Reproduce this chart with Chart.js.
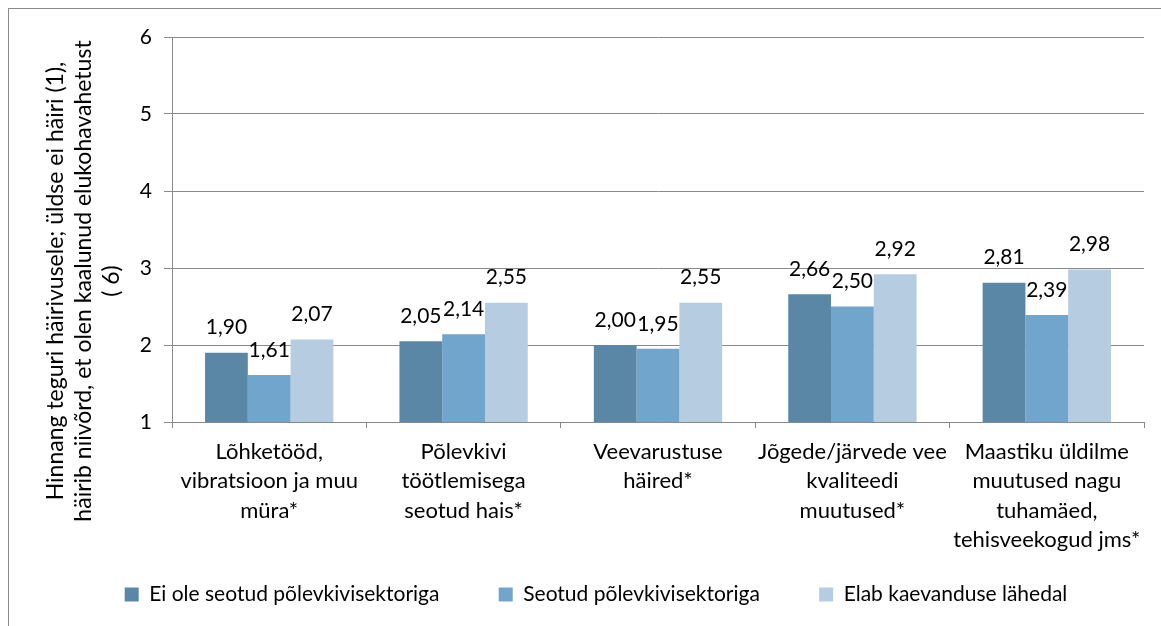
<!DOCTYPE html>
<html>
<head>
<meta charset="utf-8">
<script src="https://cdn.jsdelivr.net/npm/chart.js@4.4.0/dist/chart.umd.min.js"></script>
<style>
  body { margin: 0; background: #fff; overflow: hidden; }
  #frame { position: absolute; left: 8px; top: 8px; width: 1200px; height: 700px; border: 1px solid #8a8a8a; }
  #myChart { position: absolute; left: 0; top: 0; }
</style>
</head>
<body>
<div id="frame"></div>
<canvas id="myChart" width="1161" height="626"></canvas>
<script>
// andmed
const kategooriad = [
    ['Lõhketööd,', 'vibratsioon ja muu', 'müra*'],
    ['Põlevkivi', 'töötlemisega', 'seotud hais*'],
    ['Veevarustuse', 'häired*'],
    ['Jõgede/järvede vee', 'kvaliteedi', 'muutused*'],
    ['Maastiku üldilme', 'muutused nagu', 'tuhamäed,', 'tehisveekogud jms*']
];
const eiOleSeotud = [1.90, 2.05, 2.00, 2.66, 2.81];
const seotud = [1.61, 2.14, 1.95, 2.50, 2.39];
const kaevanduseLahedal = [2.07, 2.55, 2.55, 2.92, 2.98];
const yTicks = [1, 2, 3, 4, 5, 6];
const yPealkiri = [
    'Hinnang teguri häirivusele; üldse ei häiri (1),',
    'häirib niivõrd, et olen kaalunud elukohavahetust',
    '( 6)'
];

const FONT = 'Lato, "Open Sans", sans-serif';
const gridColor = '#8a8a8a';

// väärtused tulpade kohale
const tulbaSildid = {
    id: 'tulbaSildid',
    afterDatasetsDraw(chart) {
        const ctx = chart.ctx;
        ctx.save();
        ctx.font = '21px ' + FONT;
        ctx.fillStyle = '#000';
        ctx.textAlign = 'center';
        ctx.textBaseline = 'middle';
        chart.data.datasets.forEach((ds, i) => {
            chart.getDatasetMeta(i).data.forEach((bar, j) => {
                ctx.fillText(ds.data[j].toFixed(2).replace('.', ','), bar.x, bar.y - 25);
            });
        });
        ctx.restore();
    }
};

// y-telje pealkiri kolmel real
const yTitle = {
    id: 'yTitle',
    afterDraw(chart) {
        const ctx = chart.ctx;
        ctx.save();
        ctx.font = '23px ' + FONT;
        ctx.fillStyle = '#000';
        ctx.textAlign = 'center';
        ctx.textBaseline = 'middle';
        ctx.translate(0, 281);
        ctx.rotate(-Math.PI / 2);
        yPealkiri.forEach((rida, k) => {
            ctx.fillText(rida, 0, 56 + k * 28);
        });
        ctx.restore();
    }
};

var ctx = document.getElementById('myChart').getContext('2d');

const myChart = new Chart(ctx, {
    type: 'bar',
    data: {
        labels: kategooriad,
        datasets: [{
            label: 'Ei ole seotud põlevkivisektoriga',
            data: eiOleSeotud,
            backgroundColor: '#5b87a7'
        }, {
            label: 'Seotud põlevkivisektoriga',
            data: seotud,
            backgroundColor: '#72a5cb'
        }, {
            label: 'Elab kaevanduse lähedal',
            data: kaevanduseLahedal,
            backgroundColor: '#b5cce1'
        }]
    },
    options: {
        responsive: false,
        animation: false,
        layout: { padding: { top: 37, right: 17, left: 48, bottom: 11 } },
        datasets: {
            bar: { categoryPercentage: 0.66, barPercentage: 1 }
        },
        plugins: {
            tooltip: { enabled: false },
            legend: {
                position: 'bottom',
                labels: {
                    boxWidth: 14,
                    boxHeight: 14,
                    padding: 12,
                    color: '#000',
                    font: { family: FONT, size: 21 },
                    generateLabels(chart) {
                        const items = Chart.defaults.plugins.legend.labels.generateLabels(chart);
                        items.forEach((it, i) => {
                            it.lineWidth = 0;
                            if (i < items.length - 1) it.text = it.text + '\u2003\u2003\u2003';
                        });
                        return items;
                    }
                }
            }
        },
        scales: {
            x: {
                grid: { drawOnChartArea: false, tickLength: 6, color: gridColor },
                border: { color: gridColor },
                ticks: {
                    color: '#000',
                    padding: 9,
                    maxRotation: 0,
                    autoSkip: false,
                    font: { family: FONT, size: 22, lineHeight: 1.34 }
                },
                afterFit(scale) { scale.height = 150; }
            },
            y: {
                min: yTicks[0],
                max: yTicks[yTicks.length - 1],
                grid: { tickLength: 8, color: gridColor },
                border: { color: gridColor },
                ticks: {
                    stepSize: 1,
                    color: '#000',
                    padding: 12,
                    font: { family: FONT, size: 21 }
                },
                afterFit(scale) { scale.width = 124; }
            }
        }
    },
    plugins: [tulbaSildid, yTitle]
});
</script>
</body>
</html>
